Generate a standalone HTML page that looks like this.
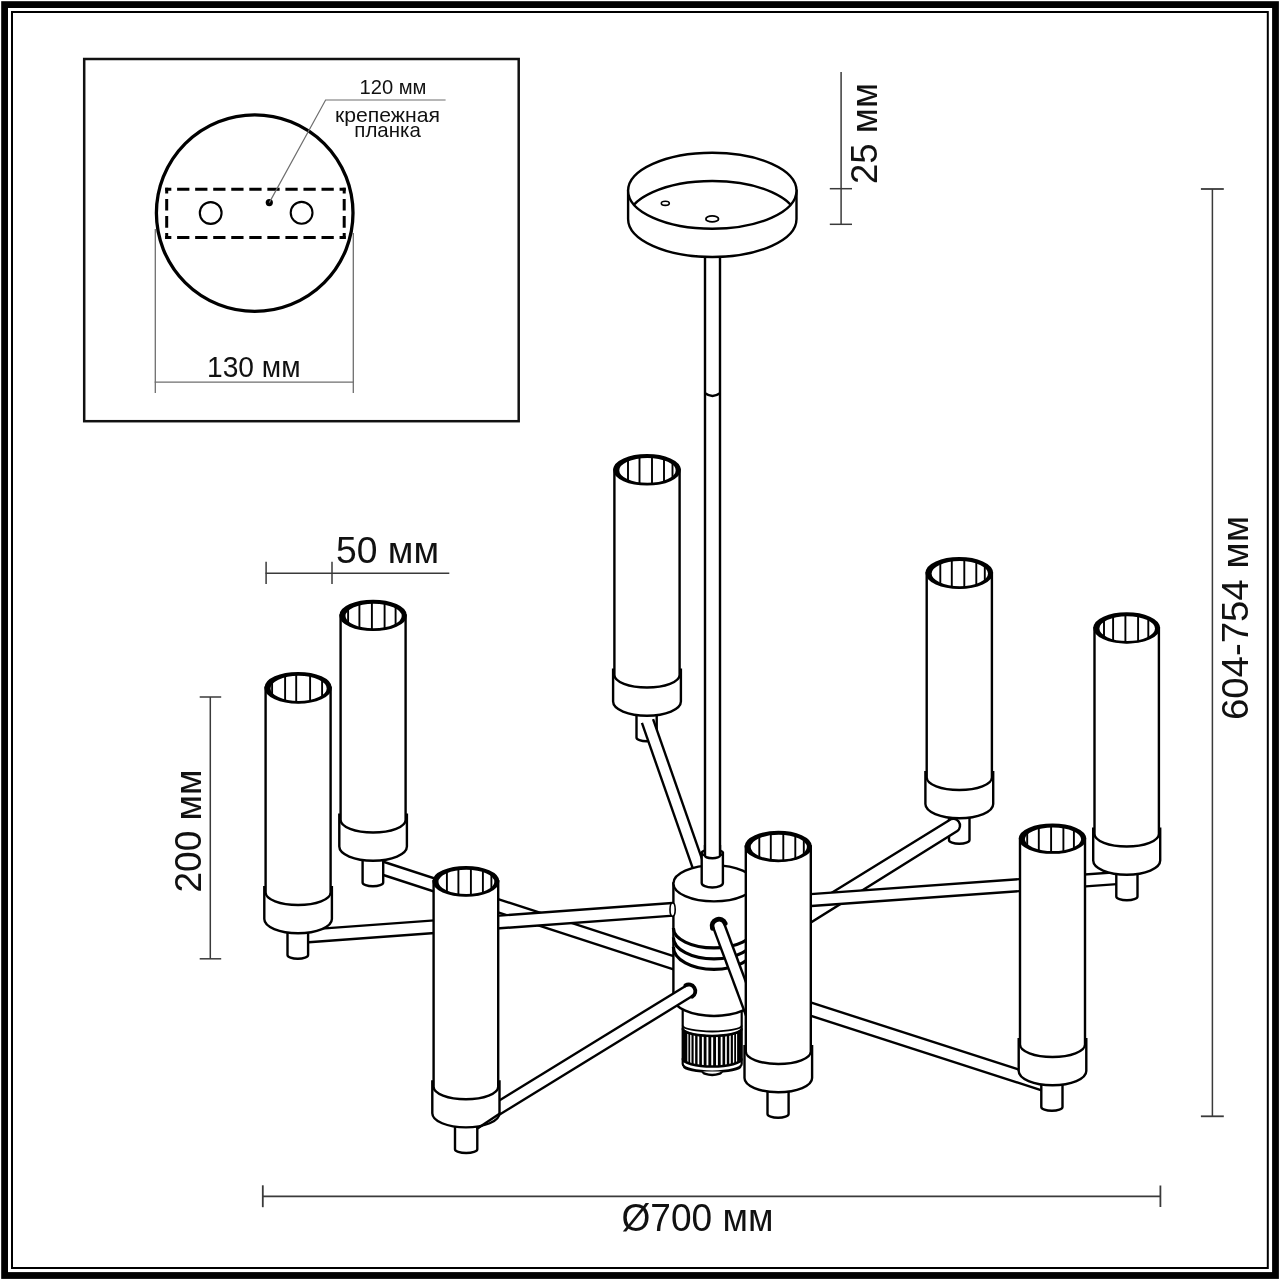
<!DOCTYPE html>
<html><head><meta charset="utf-8"><style>
html,body{margin:0;padding:0;background:#fff;width:1280px;height:1280px;overflow:hidden}
svg{display:block}
text{font-family:"Liberation Sans",sans-serif}
svg{will-change:transform}
</style></head><body>
<svg width="1280" height="1280" viewBox="0 0 1280 1280">
<rect width="1280" height="1280" fill="#fff"/>
<rect x="4.6" y="4.6" width="1270.9" height="1270.9" fill="none" stroke="#000" stroke-width="6.8"/>
<rect x="12" y="12" width="1255.8" height="1256" fill="none" stroke="#000" stroke-width="2"/>
<rect x="84.2" y="59" width="434.5" height="362.2" fill="none" stroke="#111" stroke-width="2.5"/>
<line x1="155.3" y1="229" x2="155.3" y2="393" stroke="#6e6e6e" stroke-width="1.3" />
<line x1="353.3" y1="233" x2="353.3" y2="393" stroke="#6e6e6e" stroke-width="1.3" />
<line x1="154.7" y1="382.1" x2="353.5" y2="382.1" stroke="#6e6e6e" stroke-width="1.3" />
<circle cx="254.7" cy="213.1" r="98.3" fill="none" stroke="#000" stroke-width="3.3"/>
<line x1="165.2" y1="189.2" x2="345.7" y2="189.2" stroke="#000" stroke-width="3" stroke-dasharray="12.27 5.78" stroke-dashoffset="6.14"/>
<line x1="165.2" y1="237.4" x2="345.7" y2="237.4" stroke="#000" stroke-width="3" stroke-dasharray="12.27 5.78" stroke-dashoffset="6.14"/>
<line x1="166.7" y1="187.7" x2="166.7" y2="238.9" stroke="#000" stroke-width="3" stroke-dasharray="11.61 5.46" stroke-dashoffset="5.8"/>
<line x1="344.2" y1="187.7" x2="344.2" y2="238.9" stroke="#000" stroke-width="3" stroke-dasharray="11.61 5.46" stroke-dashoffset="5.8"/>
<circle cx="210.7" cy="213" r="10.9" fill="none" stroke="#000" stroke-width="2.1"/>
<circle cx="301.6" cy="212.8" r="10.9" fill="none" stroke="#000" stroke-width="2.1"/>
<circle cx="269.3" cy="202.6" r="3.6" fill="#000"/>
<polyline points="269.3,202.6 325.6,100 445.6,100" fill="none" stroke="#6e6e6e" stroke-width="1.2"/>
<line x1="841.1" y1="72" x2="841.1" y2="224.5" stroke="#3a3a3a" stroke-width="1.5" />
<line x1="829.8" y1="188.7" x2="852" y2="188.7" stroke="#3a3a3a" stroke-width="1.5" />
<line x1="829.8" y1="224.3" x2="852" y2="224.3" stroke="#3a3a3a" stroke-width="1.5" />
<line x1="1212.4" y1="189" x2="1212.4" y2="1116.3" stroke="#3a3a3a" stroke-width="1.5" />
<line x1="1200.9" y1="189" x2="1223.8" y2="189" stroke="#3a3a3a" stroke-width="1.8" />
<line x1="1200.9" y1="1116.3" x2="1223.8" y2="1116.3" stroke="#3a3a3a" stroke-width="1.8" />
<line x1="262.8" y1="1196.3" x2="1160.4" y2="1196.3" stroke="#3a3a3a" stroke-width="1.8" />
<line x1="262.8" y1="1185.3" x2="262.8" y2="1207.2" stroke="#3a3a3a" stroke-width="1.8" />
<line x1="1160.4" y1="1185.5" x2="1160.4" y2="1207" stroke="#3a3a3a" stroke-width="1.8" />
<line x1="265.6" y1="573.3" x2="449.3" y2="573.3" stroke="#3a3a3a" stroke-width="1.5" />
<line x1="266.1" y1="561.8" x2="266.1" y2="584" stroke="#3a3a3a" stroke-width="1.5" />
<line x1="332" y1="561.8" x2="332" y2="584" stroke="#3a3a3a" stroke-width="1.5" />
<line x1="210.3" y1="697" x2="210.3" y2="958.8" stroke="#3a3a3a" stroke-width="1.5" />
<line x1="199.7" y1="697" x2="221.2" y2="697" stroke="#3a3a3a" stroke-width="1.5" />
<line x1="199.7" y1="958.8" x2="221.2" y2="958.8" stroke="#3a3a3a" stroke-width="1.5" />
<line x1="705" y1="250" x2="705" y2="855" stroke="#000" stroke-width="2.4" />
<line x1="720" y1="250" x2="720" y2="855" stroke="#000" stroke-width="2.4" />
<path d="M705 393.3 Q712.5 398.6 720 393.3" fill="none" stroke="#000" stroke-width="2.4"/>
<path d="M628.1 190.8 L628.1 219 A84.2 38 0 0 0 796.5 219 L796.5 190.8 Z" fill="#fff" stroke="#000" stroke-width="2.4"/>
<ellipse cx="712.3" cy="190.8" rx="84.2" ry="38" fill="#fff" stroke="#000" stroke-width="2.4"/>
<clipPath id="canclip"><ellipse cx="712.3" cy="190.8" rx="84.2" ry="38"/></clipPath>
<ellipse cx="712.3" cy="219" rx="84.2" ry="38" fill="none" stroke="#000" stroke-width="2.4" clip-path="url(#canclip)"/>
<ellipse cx="665.3" cy="203.3" rx="4" ry="2.1" fill="none" stroke="#000" stroke-width="1.6"/>
<ellipse cx="712.2" cy="218.9" rx="6.3" ry="3" fill="none" stroke="#000" stroke-width="1.8"/>
<path d="M636.5 701.5 L636.5 737.5 A10.1 3.8 0 0 0 656.7 737.5 L656.7 701.5" fill="#fff" stroke="#000" stroke-width="2.4"/>
<polygon points="641.93,722.95 695.78,876.95 706.92,873.05 653.07,719.05" fill="#fff"/>
<line x1="641.93" y1="722.95" x2="695.78" y2="876.95" stroke="#000" stroke-width="2.4" />
<line x1="653.07" y1="719.05" x2="706.92" y2="873.05" stroke="#000" stroke-width="2.4" />
<path d="M613.1 669.7 L613.1 701.5 A33.9 14.2 0 0 0 680.9 701.5 L680.9 669.7 Z" fill="#fff" stroke="#000" stroke-width="2.4"/>
<path d="M614.4 469.8 L614.4 675 A32.6 12.5 0 0 0 679.6 675 L679.6 469.8 Z" fill="#fff" stroke="#000" stroke-width="2.4"/>
<ellipse cx="647" cy="469.8" rx="32.6" ry="14.5" fill="#000" stroke="#000" stroke-width="2.4"/>
<ellipse cx="647.5" cy="470.4" rx="29.3" ry="13.5" fill="#fff"/>
<clipPath id="lc1"><ellipse cx="647.5" cy="470.4" rx="29.3" ry="13.5"/></clipPath>
<g clip-path="url(#lc1)" stroke="#000" stroke-width="1.9"><line x1="628" y1="455.3" x2="628" y2="484.3"/><line x1="639.5" y1="455.3" x2="639.5" y2="484.3"/><line x1="652" y1="455.3" x2="652" y2="484.3"/><line x1="664" y1="455.3" x2="664" y2="484.3"/><line x1="672.5" y1="455.3" x2="672.5" y2="484.3"/></g>
<ellipse cx="647.5" cy="470.4" rx="29.3" ry="13.5" fill="none" stroke="#000" stroke-width="2.2"/>
<polygon points="371.05,870.99 688.05,974.19 691.95,962.21 374.95,859.01" fill="#fff"/>
<line x1="371.05" y1="870.99" x2="688.05" y2="974.19" stroke="#000" stroke-width="2.4" />
<line x1="374.95" y1="859.01" x2="691.95" y2="962.21" stroke="#000" stroke-width="2.4" />
<path d="M362.6 846.5 L362.6 882.5 A10.3 3.8 0 0 0 383.2 882.5 L383.2 846.5" fill="#fff" stroke="#000" stroke-width="2.4"/>
<path d="M339.3 814.7 L339.3 846.5 A33.8 14.2 0 0 0 406.9 846.5 L406.9 814.7 Z" fill="#fff" stroke="#000" stroke-width="2.4"/>
<path d="M340.6 615.4 L340.6 820 A32.5 12.5 0 0 0 405.6 820 L405.6 615.4 Z" fill="#fff" stroke="#000" stroke-width="2.4"/>
<ellipse cx="373.1" cy="615.4" rx="32.5" ry="14.4" fill="#000" stroke="#000" stroke-width="2.4"/>
<ellipse cx="373.6" cy="616" rx="29.2" ry="13.4" fill="#fff"/>
<clipPath id="lc2"><ellipse cx="373.6" cy="616" rx="29.2" ry="13.4"/></clipPath>
<g clip-path="url(#lc2)" stroke="#000" stroke-width="1.9"><line x1="348.1" y1="601" x2="348.1" y2="629.8"/><line x1="359.4" y1="601" x2="359.4" y2="629.8"/><line x1="371.9" y1="601" x2="371.9" y2="629.8"/><line x1="384.6" y1="601" x2="384.6" y2="629.8"/><line x1="395.6" y1="601" x2="395.6" y2="629.8"/></g>
<ellipse cx="373.6" cy="616" rx="29.2" ry="13.4" fill="none" stroke="#000" stroke-width="2.2"/>
<polygon points="298.46,942.98 690.46,914.38 689.54,901.82 297.54,930.42" fill="#fff"/>
<line x1="298.46" y1="942.98" x2="690.46" y2="914.38" stroke="#000" stroke-width="2.4" />
<line x1="297.54" y1="930.42" x2="689.54" y2="901.82" stroke="#000" stroke-width="2.4" />
<path d="M287.5 919 L287.5 955 A10.3 3.8 0 0 0 308.1 955 L308.1 919" fill="#fff" stroke="#000" stroke-width="2.4"/>
<path d="M264.3 887.2 L264.3 919 A33.8 14.2 0 0 0 331.9 919 L331.9 887.2 Z" fill="#fff" stroke="#000" stroke-width="2.4"/>
<path d="M265.6 687.8 L265.6 892.5 A32.5 12.5 0 0 0 330.6 892.5 L330.6 687.8 Z" fill="#fff" stroke="#000" stroke-width="2.4"/>
<ellipse cx="298.1" cy="687.8" rx="32.5" ry="14.7" fill="#000" stroke="#000" stroke-width="2.4"/>
<ellipse cx="298.6" cy="688.4" rx="29.2" ry="13.7" fill="#fff"/>
<clipPath id="lc3"><ellipse cx="298.6" cy="688.4" rx="29.2" ry="13.7"/></clipPath>
<g clip-path="url(#lc3)" stroke="#000" stroke-width="1.9"><line x1="272.1" y1="673.1" x2="272.1" y2="702.5"/><line x1="285.1" y1="673.1" x2="285.1" y2="702.5"/><line x1="296.2" y1="673.1" x2="296.2" y2="702.5"/><line x1="310.1" y1="673.1" x2="310.1" y2="702.5"/><line x1="322.1" y1="673.1" x2="322.1" y2="702.5"/></g>
<ellipse cx="298.6" cy="688.4" rx="29.2" ry="13.7" fill="none" stroke="#000" stroke-width="2.2"/>
<path d="M949 804 L949 840 A10.25 3.8 0 0 0 969.5 840 L969.5 804" fill="#fff" stroke="#000" stroke-width="2.4"/>
<path d="M790 918.6 L949.2 820.2 A6.3 6.3 0 0 1 957.3 831 L790 935.5 Z" fill="#fff" stroke="#000" stroke-width="2.4"/>
<path d="M925.4 772.2 L925.4 804 A33.9 14.2 0 0 0 993.2 804 L993.2 772.2 Z" fill="#fff" stroke="#000" stroke-width="2.4"/>
<path d="M926.7 573 L926.7 777.5 A32.6 12.5 0 0 0 991.9 777.5 L991.9 573 Z" fill="#fff" stroke="#000" stroke-width="2.4"/>
<ellipse cx="959.3" cy="573" rx="32.6" ry="14.7" fill="#000" stroke="#000" stroke-width="2.4"/>
<ellipse cx="959.8" cy="573.6" rx="29.3" ry="13.7" fill="#fff"/>
<clipPath id="lc4"><ellipse cx="959.8" cy="573.6" rx="29.3" ry="13.7"/></clipPath>
<g clip-path="url(#lc4)" stroke="#000" stroke-width="1.9"><line x1="940.3" y1="558.3" x2="940.3" y2="587.7"/><line x1="951.8" y1="558.3" x2="951.8" y2="587.7"/><line x1="964.3" y1="558.3" x2="964.3" y2="587.7"/><line x1="976.3" y1="558.3" x2="976.3" y2="587.7"/><line x1="984.8" y1="558.3" x2="984.8" y2="587.7"/></g>
<ellipse cx="959.8" cy="573.6" rx="29.3" ry="13.7" fill="none" stroke="#000" stroke-width="2.2"/>
<polygon points="1126.57,871.47 789.57,895.67 790.43,907.53 1127.43,883.33" fill="#fff"/>
<line x1="1126.57" y1="871.47" x2="789.57" y2="895.67" stroke="#000" stroke-width="2.4" />
<line x1="1127.43" y1="883.33" x2="790.43" y2="907.53" stroke="#000" stroke-width="2.4" />
<path d="M1116.3 860.5 L1116.3 896.5 A10.6 3.8 0 0 0 1137.5 896.5 L1137.5 860.5" fill="#fff" stroke="#000" stroke-width="2.4"/>
<path d="M1093.2 828.7 L1093.2 860.5 A33.5 14.2 0 0 0 1160.2 860.5 L1160.2 828.7 Z" fill="#fff" stroke="#000" stroke-width="2.4"/>
<path d="M1094.5 628 L1094.5 834 A32.2 12.5 0 0 0 1158.9 834 L1158.9 628 Z" fill="#fff" stroke="#000" stroke-width="2.4"/>
<ellipse cx="1126.7" cy="628" rx="32.2" ry="14.5" fill="#000" stroke="#000" stroke-width="2.4"/>
<ellipse cx="1127.2" cy="628.6" rx="28.9" ry="13.5" fill="#fff"/>
<clipPath id="lc5"><ellipse cx="1127.2" cy="628.6" rx="28.9" ry="13.5"/></clipPath>
<g clip-path="url(#lc5)" stroke="#000" stroke-width="1.9"><line x1="1104" y1="613.5" x2="1104" y2="642.5"/><line x1="1113.1" y1="613.5" x2="1113.1" y2="642.5"/><line x1="1125.4" y1="613.5" x2="1125.4" y2="642.5"/><line x1="1138.1" y1="613.5" x2="1138.1" y2="642.5"/><line x1="1148.3" y1="613.5" x2="1148.3" y2="642.5"/></g>
<ellipse cx="1127.2" cy="628.6" rx="28.9" ry="13.5" fill="none" stroke="#000" stroke-width="2.2"/>
<ellipse cx="712.2" cy="1019.9" rx="9" ry="2.8" fill="#fff" stroke="#000" stroke-width="2.4"/>
<path d="M682.7 1005 L682.7 1064 A29.5 7.5 0 0 0 741.7 1064 L741.7 1005 Z" fill="#fff" stroke="#000" stroke-width="2.2"/>
<path d="M682.7 1027 A29.5 8 0 0 0 741.7 1027 L741.7 1058 A29.5 8 0 0 1 682.7 1058 Z" fill="#000"/>
<clipPath id="ribclip"><path d="M682.7 1027 A29.5 8 0 0 0 741.7 1027 L741.7 1058 A29.5 8 0 0 1 682.7 1058 Z"/></clipPath>
<g clip-path="url(#ribclip)" stroke="#fff"><line x1="687.83" y1="1020" x2="687.83" y2="1070" stroke-width="1.07"/><line x1="690.83" y1="1020" x2="690.83" y2="1070" stroke-width="1.31"/><line x1="694.39" y1="1020" x2="694.39" y2="1070" stroke-width="1.51"/><line x1="698.42" y1="1020" x2="698.42" y2="1070" stroke-width="1.68"/><line x1="702.81" y1="1020" x2="702.81" y2="1070" stroke-width="1.8"/><line x1="707.44" y1="1020" x2="707.44" y2="1070" stroke-width="1.88"/><line x1="712.2" y1="1020" x2="712.2" y2="1070" stroke-width="1.9"/><line x1="716.96" y1="1020" x2="716.96" y2="1070" stroke-width="1.88"/><line x1="721.59" y1="1020" x2="721.59" y2="1070" stroke-width="1.8"/><line x1="725.98" y1="1020" x2="725.98" y2="1070" stroke-width="1.68"/><line x1="730.01" y1="1020" x2="730.01" y2="1070" stroke-width="1.51"/><line x1="733.57" y1="1020" x2="733.57" y2="1070" stroke-width="1.31"/><line x1="736.57" y1="1020" x2="736.57" y2="1070" stroke-width="1.07"/></g>
<path d="M682.7 1025.5 A29.5 6 0 0 0 741.7 1025.5" fill="none" stroke="#000" stroke-width="1.8"/>
<path d="M682.7 1028.5 A29.5 7.5 0 0 0 741.7 1028.5" fill="none" stroke="#000" stroke-width="2.6"/>
<path d="M682.7 1058.5 A29.5 8 0 0 0 741.7 1058.5" fill="none" stroke="#000" stroke-width="2.6"/>
<path d="M683.7 1066.5 A26.5 5 0 0 0 740.7 1066.5" fill="none" stroke="#000" stroke-width="1.8"/>
<path d="M702.7 1071.5 A9.5 3.5 0 0 0 721.7 1071.5" fill="#fff" stroke="#000" stroke-width="2.4"/>
<path d="M673.4 883.4 L673.4 998 A40.6 18 0 0 0 754.6 998 L754.6 883.4 Z" fill="#fff" stroke="#000" stroke-width="2.4"/>
<ellipse cx="714" cy="883.4" rx="40.6" ry="18" fill="#fff" stroke="#000" stroke-width="2.4"/>
<path d="M673.4 928 A40.6 20 0 0 0 754.6 928" fill="none" stroke="#000" stroke-width="3.2"/>
<path d="M673.4 937.5 A40.6 21.5 0 0 0 754.6 937.5" fill="none" stroke="#000" stroke-width="3.2"/>
<path d="M673.4 947 A40.6 22.5 0 0 0 754.6 947" fill="none" stroke="#000" stroke-width="3.2"/>
<path d="M701.7 853 L701.7 883 A10.6 4.5 0 0 0 722.9 883 L722.9 853 Z" fill="#fff" stroke="#000" stroke-width="2.4"/>
<ellipse cx="712.3" cy="853" rx="10.6" ry="3" fill="#fff" stroke="#000" stroke-width="2.4"/>
<path d="M705 845 L705 855.5 A7.5 2.8 0 0 0 720 855.5 L720 845" fill="#fff" stroke="#000" stroke-width="2.4"/>
<ellipse cx="672.6" cy="909.6" rx="2.6" ry="6.6" fill="#fff" stroke="#000" stroke-width="1.6"/>
<path d="M746.56 1017.02 L713.36 927.82 A5.8 5.8 0 0 1 724.24 923.78 L757.44 1012.98 Z" fill="#fff" stroke="none"/>
<line x1="746.56" y1="1017.02" x2="713.36" y2="927.82" stroke="#000" stroke-width="2.4" />
<line x1="757.44" y1="1012.98" x2="724.24" y2="923.78" stroke="#000" stroke-width="2.4" />
<path d="M712.43 928.17 A6.8 6.8 0 0 1 725.17 923.43" fill="none" stroke="#000" stroke-width="4.8" stroke-linecap="round"/>
<path d="M462.8 1122.9 L685.6 985.9 A6.1 6.1 0 0 1 692 996.3 L469.2 1133.3 Z" fill="#fff" stroke="none"/>
<line x1="462.8" y1="1122.9" x2="685.6" y2="985.9" stroke="#000" stroke-width="2.4" />
<line x1="469.2" y1="1133.3" x2="692" y2="996.3" stroke="#000" stroke-width="2.4" />
<path d="M685.34 985.48 A6.6 6.6 0 0 1 692.26 996.72" fill="none" stroke="#000" stroke-width="3.8" stroke-linecap="round"/>
<path d="M455 1113.2 L455 1149.2 A11.15 3.8 0 0 0 477.3 1149.2 L477.3 1113.2" fill="#fff" stroke="#000" stroke-width="2.4"/>
<path d="M432.3 1081.4 L432.3 1113.2 A33.6 14.2 0 0 0 499.5 1113.2 L499.5 1081.4 Z" fill="#fff" stroke="#000" stroke-width="2.4"/>
<path d="M433.6 881.3 L433.6 1086.7 A32.3 12.5 0 0 0 498.2 1086.7 L498.2 881.3 Z" fill="#fff" stroke="#000" stroke-width="2.4"/>
<ellipse cx="465.9" cy="881.3" rx="32.3" ry="14.2" fill="#000" stroke="#000" stroke-width="2.4"/>
<ellipse cx="466.4" cy="881.9" rx="29" ry="13.2" fill="#fff"/>
<clipPath id="lc6"><ellipse cx="466.4" cy="881.9" rx="29" ry="13.2"/></clipPath>
<g clip-path="url(#lc6)" stroke="#000" stroke-width="1.9"><line x1="446.9" y1="867.1" x2="446.9" y2="895.5"/><line x1="458.4" y1="867.1" x2="458.4" y2="895.5"/><line x1="470.9" y1="867.1" x2="470.9" y2="895.5"/><line x1="482.9" y1="867.1" x2="482.9" y2="895.5"/><line x1="491.4" y1="867.1" x2="491.4" y2="895.5"/></g>
<ellipse cx="466.4" cy="881.9" rx="29" ry="13.2" fill="none" stroke="#000" stroke-width="2.2"/>
<line x1="476.6" y1="1129" x2="500.6" y2="1113.1" stroke="#000" stroke-width="2.4" />
<polygon points="788.05,1008.44 1050.05,1093.04 1053.95,1080.96 791.95,996.36" fill="#fff"/>
<line x1="788.05" y1="1008.44" x2="1050.05" y2="1093.04" stroke="#000" stroke-width="2.4" />
<line x1="791.95" y1="996.36" x2="1053.95" y2="1080.96" stroke="#000" stroke-width="2.4" />
<path d="M1041.3 1071 L1041.3 1107 A10.6 3.8 0 0 0 1062.5 1107 L1062.5 1071" fill="#fff" stroke="#000" stroke-width="2.4"/>
<path d="M1018.7 1039.2 L1018.7 1071 A33.8 14.2 0 0 0 1086.3 1071 L1086.3 1039.2 Z" fill="#fff" stroke="#000" stroke-width="2.4"/>
<path d="M1020 838.7 L1020 1044.5 A32.5 12.5 0 0 0 1085 1044.5 L1085 838.7 Z" fill="#fff" stroke="#000" stroke-width="2.4"/>
<ellipse cx="1052.5" cy="838.7" rx="32.5" ry="13.9" fill="#000" stroke="#000" stroke-width="2.4"/>
<ellipse cx="1053" cy="839.3" rx="29.2" ry="12.9" fill="#fff"/>
<clipPath id="lc7"><ellipse cx="1053" cy="839.3" rx="29.2" ry="12.9"/></clipPath>
<g clip-path="url(#lc7)" stroke="#000" stroke-width="1.9"><line x1="1027.2" y1="824.8" x2="1027.2" y2="852.6"/><line x1="1038.8" y1="824.8" x2="1038.8" y2="852.6"/><line x1="1051.1" y1="824.8" x2="1051.1" y2="852.6"/><line x1="1063.4" y1="824.8" x2="1063.4" y2="852.6"/><line x1="1073.9" y1="824.8" x2="1073.9" y2="852.6"/></g>
<ellipse cx="1053" cy="839.3" rx="29.2" ry="12.9" fill="none" stroke="#000" stroke-width="2.2"/>
<path d="M767.5 1078 L767.5 1114 A10.55 3.8 0 0 0 788.6 1114 L788.6 1078" fill="#fff" stroke="#000" stroke-width="2.4"/>
<path d="M744.5 1046.2 L744.5 1078 A33.8 14.2 0 0 0 812.1 1078 L812.1 1046.2 Z" fill="#fff" stroke="#000" stroke-width="2.4"/>
<path d="M745.8 846.5 L745.8 1051.5 A32.5 12.5 0 0 0 810.8 1051.5 L810.8 846.5 Z" fill="#fff" stroke="#000" stroke-width="2.4"/>
<ellipse cx="778.3" cy="846.5" rx="32.5" ry="14.5" fill="#000" stroke="#000" stroke-width="2.4"/>
<ellipse cx="778.8" cy="847.1" rx="29.2" ry="13.5" fill="#fff"/>
<clipPath id="lc8"><ellipse cx="778.8" cy="847.1" rx="29.2" ry="13.5"/></clipPath>
<g clip-path="url(#lc8)" stroke="#000" stroke-width="1.9"><line x1="759.3" y1="832" x2="759.3" y2="861"/><line x1="770.8" y1="832" x2="770.8" y2="861"/><line x1="783.3" y1="832" x2="783.3" y2="861"/><line x1="795.3" y1="832" x2="795.3" y2="861"/><line x1="803.8" y1="832" x2="803.8" y2="861"/></g>
<ellipse cx="778.8" cy="847.1" rx="29.2" ry="13.5" fill="none" stroke="#000" stroke-width="2.2"/>
<text x="359.5" y="94" font-size="20.3" textLength="67" lengthAdjust="spacingAndGlyphs" fill="#111">120 мм</text>
<text x="335" y="121.5" font-size="19.8" textLength="105" lengthAdjust="spacingAndGlyphs" fill="#111">крепежная</text>
<text x="354.3" y="136.5" font-size="19.8" textLength="66.5" lengthAdjust="spacingAndGlyphs" fill="#111">планка</text>
<text x="207" y="376.8" font-size="29" textLength="93.5" lengthAdjust="spacingAndGlyphs" fill="#111">130 мм</text>
<text x="336" y="562.7" font-size="37.8" textLength="103" lengthAdjust="spacingAndGlyphs" fill="#111">50 мм</text>
<text x="621.5" y="1230.8" font-size="38.2" textLength="152" lengthAdjust="spacingAndGlyphs" fill="#111">Ø700 мм</text>
<text x="877" y="184" font-size="37.3" textLength="101" lengthAdjust="spacingAndGlyphs" fill="#111" transform="rotate(-90 877 184)">25 мм</text>
<text x="1247.6" y="720" font-size="37.5" textLength="204" lengthAdjust="spacingAndGlyphs" fill="#111" transform="rotate(-90 1247.6 720)">604-754 мм</text>
<text x="200.8" y="892.5" font-size="37.8" textLength="123" lengthAdjust="spacingAndGlyphs" fill="#111" transform="rotate(-90 200.8 892.5)">200 мм</text>
</svg></body></html>
